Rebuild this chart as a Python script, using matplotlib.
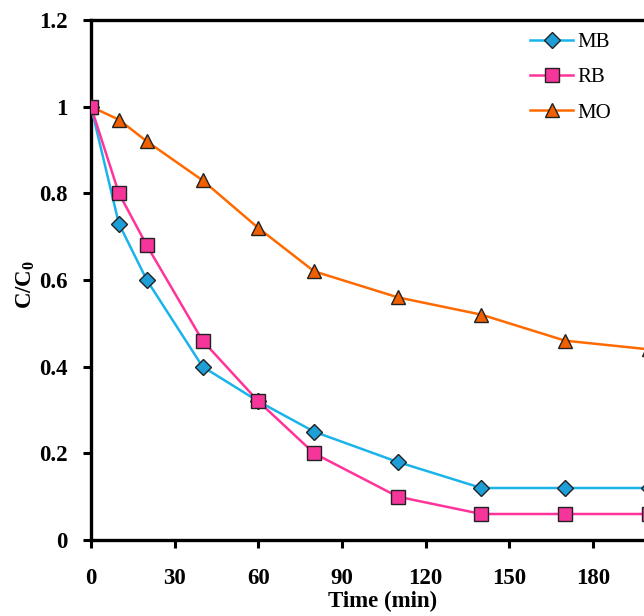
import matplotlib
matplotlib.use("Agg")
import matplotlib.pyplot as plt

plt.rcParams['font.family'] = ['Liberation Serif', 'DejaVu Serif']
plt.rcParams['mathtext.fontset'] = 'custom'
plt.rcParams['mathtext.rm'] = 'Liberation Serif:bold'
plt.rcParams['mathtext.it'] = 'Liberation Serif:bold'
plt.rcParams['mathtext.bf'] = 'Liberation Serif:bold'

time = [0, 10, 20, 40, 60, 80, 110, 140, 170, 200]
mb = [1.0, 0.73, 0.60, 0.40, 0.32, 0.25, 0.18, 0.12, 0.12, 0.12]
rb = [1.0, 0.80, 0.68, 0.46, 0.32, 0.20, 0.10, 0.06, 0.06, 0.06]
mo = [1.0, 0.97, 0.92, 0.83, 0.72, 0.62, 0.56, 0.52, 0.46, 0.44]
xticks = [0, 30, 60, 90, 120, 150, 180]
yticks = [0, 0.2, 0.4, 0.6, 0.8, 1.0, 1.2]
ytick_labels = ['0', '0.2', '0.4', '0.6', '0.8', '1', '1.2']

fig = plt.figure(figsize=(6.44, 6.16), dpi=100)
left = 91 / 644
bottom = (616 - 540) / 616
top = (616 - 20) / 616
px_per_min = (593 - 91) / 180
xmax = 210
width = xmax * px_per_min / 644
ax = fig.add_axes([left, bottom, width, top - bottom])

ax.plot(time, mo, color='#FF6A00', lw=1.8, marker='^', ms=9.5,
        mfc='#F06000', mec='#222222', mew=1.0, label='MO', zorder=3)
ax.plot(time, mb, color='#1AB4EA', lw=1.8, marker='D', ms=8,
        mfc='#1E9ED6', mec='#222222', mew=1.0, label='MB', zorder=4)
ax.plot(time, rb, color='#FF3399', lw=1.8, marker='s', ms=10,
        mfc='#F5359A', mec='#222222', mew=1.0, label='RB', zorder=5)

ax.set_xlim(0, xmax)
ax.set_ylim(0, 1.2)
ax.set_xticks(xticks)
ax.set_yticks(yticks)
ax.set_yticklabels(ytick_labels)
ax.tick_params(axis='both', direction='out', length=6, width=2.2,
               labelsize=16.5)
ax.tick_params(axis='x', pad=14)
ax.tick_params(axis='y', pad=11)
for lab in ax.get_xticklabels() + ax.get_yticklabels():
    lab.set_fontweight('bold')
for s in ax.spines.values():
    s.set_linewidth(2.4)

ax.set_xlabel('Time (min)', fontsize=16.5, fontweight='bold')
ax.xaxis.set_label_coords(383 / 644, 1 - 591 / 616, transform=fig.transFigure)
ax.set_ylabel(r'C/C$_{0}$', fontsize=16.5, fontweight='bold')
ax.yaxis.set_label_coords(37 / 644, 1 - 284 / 616, transform=fig.transFigure)

handles, labels = ax.get_legend_handles_labels()
order = [1, 2, 0]
leg = fig.legend([handles[i] for i in order], [labels[i] for i in order],
                 loc='upper left', bbox_to_anchor=(522 / 644, 1 - 24 / 616),
                 frameon=False, fontsize=15, handlelength=2.07,
                 labelspacing=0.76, handletextpad=0.2, borderaxespad=0)

fig.savefig('out.png', dpi=100)
